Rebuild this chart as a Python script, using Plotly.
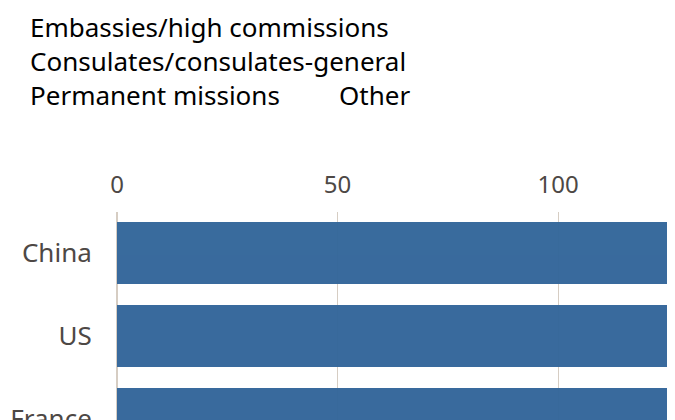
import plotly.graph_objects as go

countries = ["China", "US", "France", "Japan", "Russia", "Turkey", "Germany", "Brazil"]
embassies = [169, 168, 161, 151, 144, 140, 150, 138]
consulates = [96, 88, 89, 65, 87, 80, 54, 70]
permanent = [8, 9, 16, 10, 11, 13, 12, 12]
other = [3, 8, 1, 21, 0, 1, 8, 2]

series_names = ["Embassies/high commissions", "Consulates/consulates-general",
                "Permanent missions", "Other"]
series_values = [embassies, consulates, permanent, other]
series_colors = ["#33669a", "#e3b13e", "#96cc28", "#a7a59b"]

tick_vals = [0, 50, 100, 150, 200, 250]

fig = go.Figure()
for name, vals, col in zip(series_names, series_values, series_colors):
    fig.add_trace(go.Bar(
        y=countries, x=vals, name=name, orientation="h",
        marker=dict(color=col, line=dict(width=0)), opacity=0.97,
        showlegend=False,
    ))

font_family = "Noto Sans, Open Sans, sans-serif"
# page body adds an 8px offset; figure sized so that the page fits the window
W, H = 675, 412
L, T = 109, 204
fig.update_layout(
    width=W, height=H,
    margin=dict(l=L, r=0, t=T, b=0, autoexpand=False),
    barmode="stack", bargap=0.25,
    plot_bgcolor="white", paper_bgcolor="white",
    font=dict(family=font_family, size=24, color="#4d4845"),
    xaxis=dict(side="top", range=[0, 128.3], tickvals=tick_vals,
               automargin=False,
               showgrid=True, gridcolor="#d6cdc3", gridwidth=1,
               zeroline=True, zerolinecolor="#d6cdc3", zerolinewidth=2,
               ticks="outside", ticklen=8, tickcolor="rgba(0,0,0,0)",
               showline=False,
               tickfont=dict(size=24, color="#4d4845")),
    yaxis=dict(categoryorder="array", categoryarray=countries,
               automargin=False,
               range=[2.015, -0.49], showgrid=False, zeroline=False,
               ticks="outside", ticklen=19, tickcolor="rgba(0,0,0,0)",
               tickfont=dict(size=26, color="#4d4845")),
)

leg = [(series_names[0], 28, 27), (series_names[1], 28, 61),
       (series_names[2], 28, 95), (series_names[3], 337, 95)]
for text, px, py in leg:
    fig.add_annotation(text=text, xref="paper", yref="paper",
                       x=(px - 8 - L) / (W - L), y=1 + (T - (py - 8)) / (H - T),
                       xanchor="left", yanchor="middle", showarrow=False,
                       font=dict(family=font_family, size=26, color="#000000"))

fig.write_html("out.html")
